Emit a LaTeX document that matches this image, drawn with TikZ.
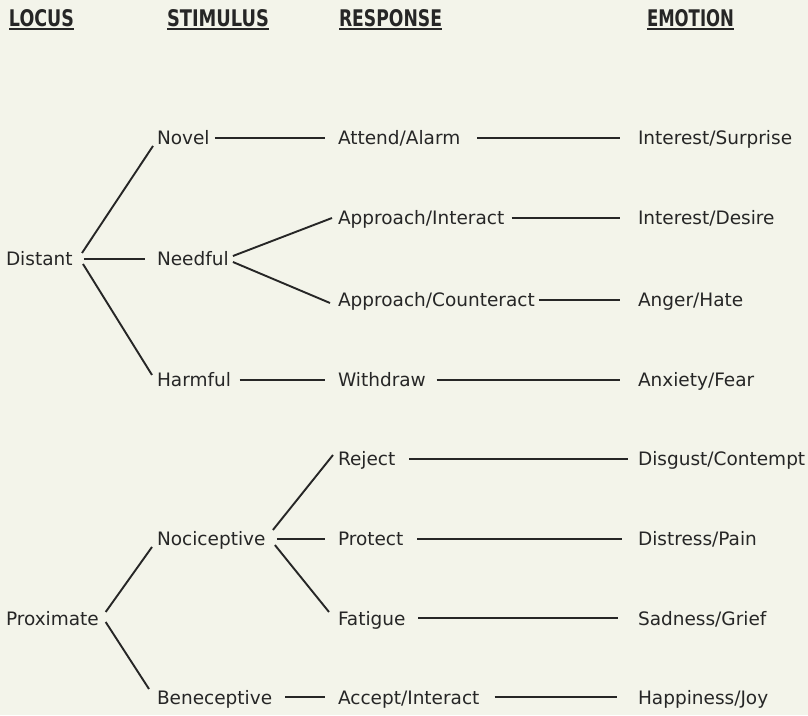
\documentclass[tikz,border=0pt]{standalone}
\usepackage{fontspec}
\setmainfont{DejaVu Sans}
\usepackage{graphicx}
\definecolor{bg}{HTML}{F3F4EA}
\definecolor{ink}{HTML}{262626}
\newcommand{\hdrtext}[2]{\resizebox{#1pt}{17pt}{\bfseries #2}\llap{\rule[-3pt]{#1pt}{1.7pt}}}
\begin{document}
\begin{tikzpicture}[x=1pt,y=1pt,
  lbl/.style={anchor=base west, inner sep=0pt, outer sep=0pt, text height=16pt, text depth=2pt,
              font=\fontsize{18.5}{20}\selectfont, text=ink},
  hdr/.style={anchor=base west, inner sep=0pt, outer sep=0pt, text=ink},
  link/.style={draw=ink, line width=1.9pt}]
\fill[bg] (0,0) rectangle (808,715);
\useasboundingbox (0,0) rectangle (808,715);
% headers
\node[hdr] (hlocus) at (9,688)   {\hdrtext{65}{LOCUS}};
\node[hdr] (hstim)  at (167,688) {\hdrtext{102}{STIMULUS}};
\node[hdr] (hresp)  at (339,688) {\hdrtext{103}{RESPONSE}};
\node[hdr] (hemo)   at (647,688) {\hdrtext{87}{EMOTION}};
% locus
\node[lbl] (dist) at (6,449) {Distant};
\node[lbl] (prox) at (6,90)  {Proximate};
% stimulus
\node[lbl] (novel)   at (157,570) {Novel};
\node[lbl] (needful) at (157,449) {Needful};
\node[lbl] (harmful) at (157,328) {Harmful};
\node[lbl] (noci)    at (157,169) {Nociceptive};
\node[lbl] (bene)    at (157,11)  {Beneceptive};
% response
\node[lbl] (attend)   at (338,570) {Attend/Alarm};
\node[lbl] (appint)   at (338,490) {Approach/Interact};
\node[lbl] (appcnt)   at (338,408) {Approach/Counteract};
\node[lbl] (withdraw) at (338,328) {Withdraw};
\node[lbl] (reject)   at (338,249) {Reject};
\node[lbl] (protect)  at (338,169) {Protect};
\node[lbl] (fatigue)  at (338,90)  {Fatigue};
\node[lbl] (accept)   at (338,11)  {Accept/Interact};
% emotion
\node[lbl] (e1) at (638,570) {Interest/Surprise};
\node[lbl] (e2) at (638,490) {Interest/Desire};
\node[lbl] (e3) at (638,408) {Anger/Hate};
\node[lbl] (e4) at (638,328) {Anxiety/Fear};
\node[lbl] (e5) at (638,249) {Disgust/Contempt};
\node[lbl] (e6) at (638,169) {Distress/Pain};
\node[lbl] (e7) at (638,90)  {Sadness/Grief};
\node[lbl] (e8) at (638,11)  {Happiness/Joy};
% locus -> stimulus
\draw[link] ([shift={(9.4,6)}]dist.east) -- ([shift={(-4,-8)}]novel.west);
\draw[link, shorten <=11.4pt, shorten >=12pt] (dist.east) -- (needful.west);
\draw[link] ([shift={(10.4,-5)}]dist.east) -- ([shift={(-5,5)}]harmful.west);
\draw[link] ([shift={(6.8,6)}]prox.east) -- ([shift={(-5,-8)}]noci.west);
\draw[link] ([shift={(6.8,-4)}]prox.east) -- ([shift={(-8,8)}]bene.west);
% stimulus -> response
\draw[link, shorten <=5.3pt, shorten >=13pt] (novel.east) -- (attend.west);
\draw[link] ([shift={(4.2,3)}]needful.east) -- ([shift={(-6,0)}]appint.west);
\draw[link] ([shift={(4.2,-3)}]needful.east) -- ([shift={(-8,-3)}]appcnt.west);
\draw[link, shorten <=8.7pt, shorten >=13pt] (harmful.east) -- (withdraw.west);
\draw[link] ([shift={(7.4,9)}]noci.east) -- ([shift={(-5,4)}]reject.west);
\draw[link, shorten <=11.4pt, shorten >=13pt] (noci.east) -- (protect.west);
\draw[link] ([shift={(9.4,-6)}]noci.east) -- ([shift={(-9,6)}]fatigue.west);
\draw[link, shorten <=12.8pt, shorten >=13pt] (bene.east) -- (accept.west);
% response -> emotion
\draw[link, shorten <=17pt, shorten >=18pt] (attend.east) -- (e1.west);
\draw[link, shorten <=7.3pt, shorten >=18pt] (appint.east) -- (e2.west);
\draw[link, shorten <=4pt, shorten >=18pt] (appcnt.east) -- (e3.west);
\draw[link, shorten <=10.8pt, shorten >=18pt] (withdraw.east) -- (e4.west);
\draw[link, shorten <=13.8pt, shorten >=10pt] (reject.east) -- (e5.west);
\draw[link, shorten <=13.9pt, shorten >=16pt] (protect.east) -- (e6.west);
\draw[link, shorten <=12.8pt, shorten >=20pt] (fatigue.east) -- (e7.west);
\draw[link, shorten <=15.2pt, shorten >=21pt] (accept.east) -- (e8.west);
\end{tikzpicture}
\end{document}
